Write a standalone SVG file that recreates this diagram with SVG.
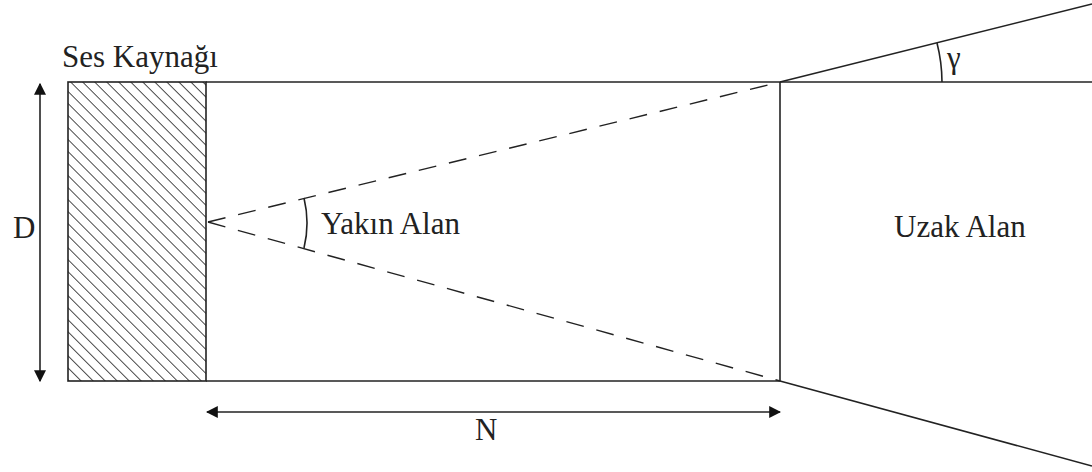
<svg xmlns="http://www.w3.org/2000/svg" width="1092" height="472" viewBox="0 0 1092 472">
<defs>
<pattern id="hatch" patternUnits="userSpaceOnUse" width="8.5" height="8.5" patternTransform="rotate(-45)">
<line x1="0" y1="0" x2="0" y2="8.5" stroke="#111" stroke-width="1.5"/>
</pattern>
<marker id="ah" viewBox="0 0 10 10" refX="9" refY="5" markerWidth="12" markerHeight="12" markerUnits="userSpaceOnUse" orient="auto-start-reverse">
<path d="M0,0 L10,5 L0,10 z" fill="#111"/>
</marker>
<style>
.ln{stroke:#222;stroke-width:1.6;fill:none}
.dash{stroke:#222;stroke-width:1.4;fill:none;stroke-dasharray:18 13}
.t{font-family:'Liberation Serif','Times New Roman',serif;font-size:31px;fill:#222}
</style>
</defs>
<rect width="1092" height="472" fill="#fff"/>
<g id="source">
<rect x="68" y="82" width="138" height="299" fill="url(#hatch)" stroke="#222" stroke-width="1.6"/>
<text class="t" x="62" y="67">Ses Kaynağı</text>
</g>
<g id="near-field">
<line class="ln" x1="206" y1="82" x2="780" y2="82"/>
<line class="ln" x1="206" y1="381" x2="780" y2="381"/>
<line class="ln" x1="780" y1="82" x2="780" y2="381"/>
<text class="t" x="321" y="234">Yakın Alan</text>
</g>
<g id="far-field">
<line class="ln" x1="780" y1="82" x2="1092" y2="82"/>
<text class="t" x="894" y="237">Uzak Alan</text>
</g>
<g id="connectors">
<line class="dash" x1="208" y1="222" x2="780" y2="82"/>
<line class="dash" x1="208" y1="222" x2="780" y2="381"/>
<path class="ln" d="M304,198 A106,106 0 0 1 304,248" stroke-width="1.4"/>
<line class="ln" x1="780" y1="82" x2="1092" y2="4"/>
<line class="ln" x1="780" y1="381" x2="1092" y2="466"/>
<path class="ln" d="M942,82 A162,162 0 0 0 937,43" stroke-width="1.4"/>
<line class="ln" x1="40" y1="84" x2="40" y2="381" marker-start="url(#ah)" marker-end="url(#ah)"/>
<line class="ln" x1="207" y1="412" x2="780" y2="412" marker-start="url(#ah)" marker-end="url(#ah)"/>
</g>
<g id="labels">
<text class="t" x="13" y="238">D</text>
<text class="t" x="475" y="440">N</text>
<text class="t" x="947" y="68">γ</text>
</g>
</svg>
